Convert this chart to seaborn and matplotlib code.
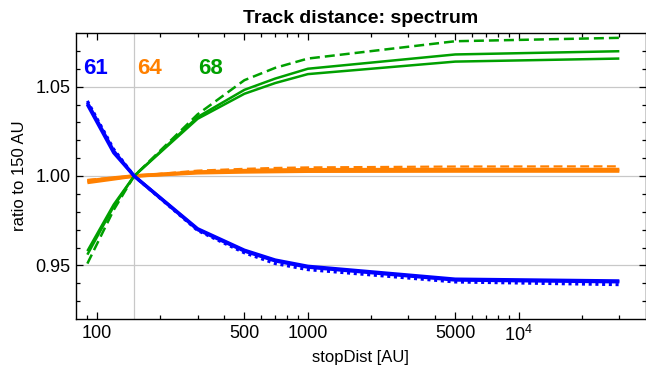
import numpy as np
import pandas as pd
import matplotlib
matplotlib.use("Agg")
import matplotlib.pyplot as plt
import seaborn as sns
from matplotlib.ticker import FixedLocator, NullFormatter

sns.set_style("ticks")
plt.rcParams['font.family'] = ['Liberation Sans', 'DejaVu Sans']
plt.rcParams['mathtext.fontset'] = 'custom'
plt.rcParams['mathtext.rm'] = 'Liberation Sans'
plt.rcParams['mathtext.it'] = 'Liberation Sans:italic'
plt.rcParams['mathtext.bf'] = 'Liberation Sans:bold'
plt.rcParams['text.color'] = 'black'
plt.rcParams['axes.labelcolor'] = 'black'
plt.rcParams['xtick.color'] = 'black'
plt.rcParams['ytick.color'] = 'black'

# ---- data ----
stop_dist = [90, 120, 150, 300, 500, 700, 1000, 5000, 30000]

blue_solid_a = [1.041, 1.014, 1.000, 0.9705, 0.9585, 0.9530, 0.9495, 0.9423, 0.9413]
blue_solid_b = [1.040, 1.013, 1.000, 0.9700, 0.9580, 0.9525, 0.9490, 0.9418, 0.9408]
blue_dotted = [1.042, 1.015, 1.000, 0.9695, 0.9570, 0.9510, 0.9476, 0.9407, 0.9392]

orange_solid_a = [0.9964, 0.9984, 1.000, 1.0018, 1.0023, 1.0025, 1.0027, 1.0028, 1.0028]
orange_solid_b = [0.9972, 0.9989, 1.000, 1.0022, 1.0030, 1.0033, 1.0035, 1.0036, 1.0036]
orange_dashed = [0.9978, 0.9991, 1.000, 1.0030, 1.0040, 1.0045, 1.0048, 1.0053, 1.0054]

green_solid_a = [0.958, 0.984, 1.000, 1.0330, 1.0482, 1.0545, 1.0600, 1.0680, 1.0698]
green_solid_b = [0.956, 0.983, 1.000, 1.0320, 1.0460, 1.0520, 1.0570, 1.0640, 1.0657]
green_dashed = [0.951, 0.981, 1.000, 1.0345, 1.0536, 1.0605, 1.0657, 1.0754, 1.0773]

group_labels = ["61", "64", "68"]
x_major = [100, 500, 1000, 5000, 10000]
x_major_labels = ["100", "500", "1000", "5000", "$10^4$"]
x_minor = [90, 200, 300, 400, 600, 700, 800, 900, 2000, 3000, 4000,
           6000, 7000, 8000, 9000, 20000, 30000]
y_major = [0.95, 1.00, 1.05]
y_major_labels = ["0.95", "1.00", "1.05"]
y_minor = [0.93, 0.94, 0.96, 0.97, 0.98, 0.99, 1.01, 1.02, 1.03, 1.04, 1.06, 1.07]

BLUE = "#0000FF"
ORANGE = "#FF8000"
GREEN = "#00A000"

fig = plt.figure(figsize=(6.46, 3.70), dpi=100)
ax = fig.add_axes([76/646, 1-319/370, 1-76/646 - 0.0005, (319-33)/370])

# grid lines
for yv in y_major:
    ax.axhline(yv, color="#c8c8c8", lw=0.9, zorder=0)
ax.axvline(150, color="#c8c8c8", lw=0.9, zorder=0)

series = [
    (orange_solid_a, ORANGE, "-", 2.6),
    (orange_solid_b, ORANGE, "-", 2.6),
    (orange_dashed, ORANGE, (0, (4, 2)), 1.6),
    (green_solid_a, GREEN, "-", 1.8),
    (green_solid_b, GREEN, "-", 1.8),
    (green_dashed, GREEN, (0, (4, 2)), 1.8),
    (blue_dotted, BLUE, (0, (1, 1.2)), 2.2),
    (blue_solid_a, BLUE, "-", 2.4),
    (blue_solid_b, BLUE, "-", 2.4),
]
for ys, col, ls, lw in series:
    sns.lineplot(x=stop_dist, y=ys, ax=ax, color=col, linestyle=ls, lw=lw,
                 solid_capstyle="butt", dash_capstyle="butt", estimator=None)

ax.set_xscale("log")
ax.set_xlim(79.5, 40000)
ax.set_ylim(0.92, 1.08)

ax.xaxis.set_major_locator(FixedLocator(x_major))
ax.set_xticklabels(x_major_labels)
ax.xaxis.set_minor_locator(FixedLocator(x_minor))
ax.xaxis.set_minor_formatter(NullFormatter())
ax.yaxis.set_major_locator(FixedLocator(y_major))
ax.set_yticklabels(y_major_labels)
ax.yaxis.set_minor_locator(FixedLocator(y_minor))
ax.yaxis.set_minor_formatter(NullFormatter())

ax.tick_params(which="both", direction="in", top=True, right=True,
               color="black", width=0.9)
ax.tick_params(which="major", length=5, labelsize=13, pad=4)
ax.tick_params(which="minor", length=2.8)
for s in ax.spines.values():
    s.set_linewidth(1.0)
    s.set_color("black")

ax.set_xlabel("stopDist [AU]", fontsize=12, labelpad=4)
ax.set_ylabel("ratio to 150 AU", fontsize=12, labelpad=6)
ax.set_title("Track distance: spectrum", fontsize=14, fontweight="bold", pad=7)

label_pos = [(98, BLUE), (178, ORANGE), (347, GREEN)]
for lab, (xp, col) in zip(group_labels, label_pos):
    ax.text(xp, 1.0603, lab, color=col, fontsize=16, fontweight="bold",
            ha="center", va="center")

fig.savefig("out.png", dpi=100)
